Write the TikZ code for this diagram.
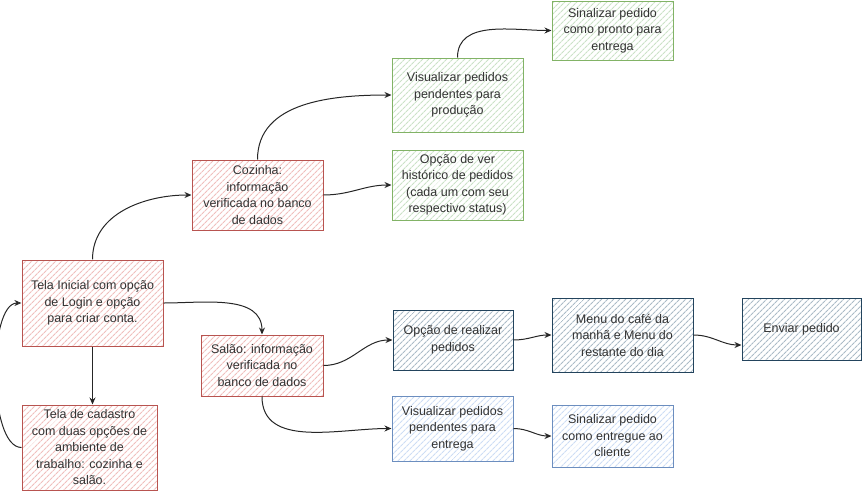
\documentclass[tikz,border=0pt]{standalone}
\usepackage{fontspec}
\setmainfont{Liberation Sans}
\usepackage{xcolor}
\usetikzlibrary{arrows.meta,positioning,patterns.meta}

\definecolor{redfill}{HTML}{F8CECC}
\definecolor{redline}{HTML}{B85450}
\definecolor{greenfill}{HTML}{D5E8D4}
\definecolor{greenline}{HTML}{82B366}
\definecolor{navyfill}{HTML}{BAC8D3}
\definecolor{navyline}{HTML}{23445D}
\definecolor{bluefill}{HTML}{DAE8FC}
\definecolor{blueline}{HTML}{6C8EBF}
\definecolor{txt}{HTML}{333333}

\tikzset{
  tela/.style={draw, rectangle, line width=1pt, align=center, text=txt,
    font=\fontsize{12.5}{16.5}\selectfont, inner sep=1pt},
  hatch/.style={preaction={fill=white},
    pattern={Lines[angle=45,distance=4pt,line width=1.2pt]}, pattern color=#1},
  redbox/.style={tela, draw=redline, hatch=redfill!88!redline},
  greenbox/.style={tela, draw=greenline, hatch=greenfill!88!greenline},
  navybox/.style={tela, draw=navyline, hatch=navyfill!90!navyline},
  bluebox/.style={tela, draw=blueline, hatch=bluefill!88!blueline},
  link/.style={->, line width=1pt, black!85}
}

\begin{document}
\begin{tikzpicture}[x=1pt, y=-1pt, >={Stealth[open,length=7pt,width=6pt]}]
\useasboundingbox (0,0) rectangle (863,491);

\node[redbox, minimum width=141, minimum height=86] (inicial) at (92.5, 303) {Tela Inicial com opção\\de Login e opção\\para criar conta.};
\node[redbox, minimum width=135, minimum height=85] (cadastro) at (89.5, 447.5) {Tela de cadastro\\com duas opções de\\ambiente de\\trabalho: cozinha e\\salão.};
\node[redbox, minimum width=131, minimum height=70] (cozinha) at (257.5, 195) {Cozinha:\\informação\\verificada no banco\\de dados};
\node[redbox, minimum width=122, minimum height=61] (salao) at (262, 365.5) {Salão: informação\\verificada no\\banco de dados};

\node[greenbox, minimum width=121, minimum height=59] (pronto) at (612.5, 30.5) {Sinalizar pedido\\como pronto para\\entrega};
\node[greenbox, minimum width=131, minimum height=74] (producao) at (457.5, 95) {Visualizar pedidos\\pendentes para\\produção};
\node[greenbox, minimum width=131, minimum height=70] (historico) at (457.5, 185) {Opção de ver\\histórico de pedidos\\(cada um com seu\\respectivo status)};

\node[navybox, minimum width=120, minimum height=60] (realizar) at (453, 340) {Opção de realizar\\pedidos};
\node[navybox, minimum width=141, minimum height=74] (menu) at (622.5, 335) {Menu do café da\\manhã e Menu do\\restante do dia};
\node[navybox, minimum width=119, minimum height=62] (enviar) at (801.5, 329) {Enviar pedido};

\node[bluebox, minimum width=121, minimum height=65] (entrega) at (452.5, 428.5) {Visualizar pedidos\\pendentes para\\entrega};
\node[bluebox, minimum width=121, minimum height=62] (entregue) at (612.5, 436) {Sinalizar pedido\\como entregue ao\\cliente};

% fluxo inicial
\draw[link] (inicial.north) to[out=90, in=180] (cozinha.west);
\draw[link] (inicial.east) to[out=0, in=90] (salao.north);
\draw[link] (inicial.south) -- (cadastro.north -| inicial.south);
\draw[link] (cadastro.west) to[out=180, in=180, looseness=0.6] (inicial.west);

% cozinha
\draw[link] (cozinha.north) to[out=90, in=180] (producao.west);
\draw[link] (cozinha.east) to[out=0, in=180] (historico.west);
\draw[link] (producao.north) to[out=90, in=180] (pronto.west);

% salao
\draw[link] (salao.east) to[out=0, in=180] (realizar.west);
\draw[link] (salao.south) to[out=270, in=180] (entrega.west);
\draw[link] (realizar.east) to[out=0, in=180] (menu.west);
\draw[link] (menu.east) to[out=0, in=180] ([yshift=-16]enviar.west);
\draw[link] (entrega.east) to[out=0, in=180] (entregue.west);
\end{tikzpicture}
\end{document}
